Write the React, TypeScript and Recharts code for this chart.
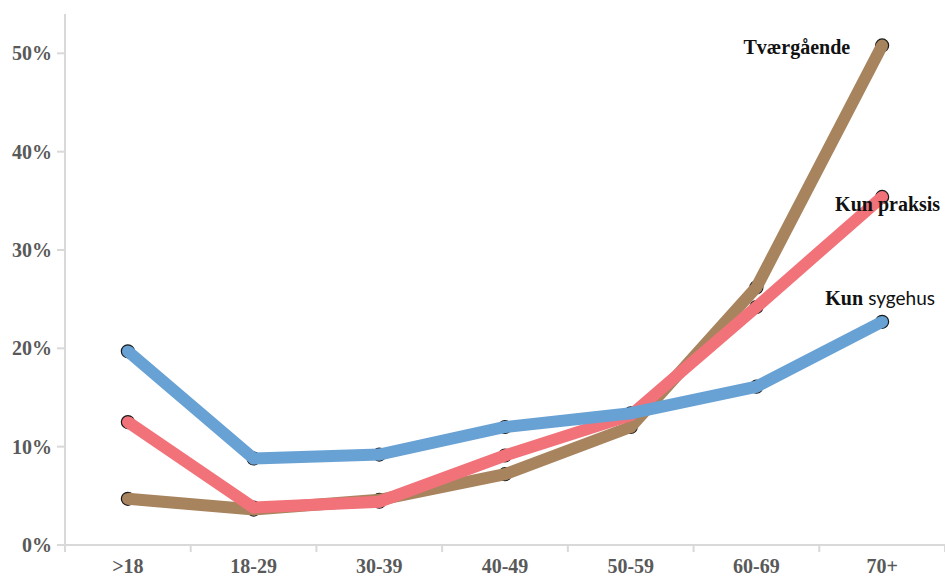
import { LineChart, Line, XAxis, YAxis } from "recharts";

// age groups on the x axis
const ageGroups = [">18", "18-29", "30-39", "40-49", "50-59", "60-69", "70+"];

// share of patients, percent
const tvaergaende = [4.7, 3.6, 4.6, 7.2, 12.0, 26.2, 50.8];
const kunPraksis = [12.5, 3.8, 4.4, 9.1, 13.2, 24.2, 35.4];
const kunSygehus = [19.7, 8.8, 9.2, 12.0, 13.4, 16.1, 22.7];

const yTicks = [0, 10, 20, 30, 40, 50];
const centerTicks = ageGroups.map((_, i) => i);
const edgeTicks = [...ageGroups.map((_, i) => i - 0.5), ageGroups.length - 0.5];

const data = ageGroups.map((group, i) => ({
  i,
  group,
  tv: tvaergaende[i],
  kp: kunPraksis[i],
  ks: kunSygehus[i],
}));

const BROWN = "#a8845e";
const RED = "#f2727a";
const BLUE = "#68a1d4";
const AXIS = "#d9d9d9";
const TICK_TEXT = "#595959";
const SERIF = "'Liberation Serif', 'Times New Roman', serif";

const W = 945;
const H = 577;
const MARGIN = { top: 14, right: 0, bottom: 0, left: 0 };
const X_DOMAIN: [number, number] = [-0.5, ageGroups.length - 0.5];
const Y_DOMAIN: [number, number] = [0, 54];

const tickStyle = {
  fill: TICK_TEXT,
  fontSize: 20,
  fontFamily: SERIF,
  fontWeight: 700,
};

const last = ageGroups.length - 1;

const tvLabel = (props: any) => {
  if (props.index !== last) return null;
  return (
    <text
      x={props.x - 32}
      y={props.y + 9}
      textAnchor="end"
      fontFamily={SERIF}
      fontSize={20}
      fontWeight={700}
      fill="#111"
    >
      Tværgående
    </text>
  );
};

const kpLabel = (props: any) => {
  if (props.index !== last) return null;
  return (
    <text
      x={props.x + 58}
      y={props.y + 14}
      textAnchor="end"
      fontFamily={SERIF}
      fontSize={20}
      fontWeight={700}
      fill="#111"
    >
      Kun praksis
    </text>
  );
};

const ksLabel = (props: any) => {
  if (props.index !== last) return null;
  return (
    <text x={props.x - 2} y={props.y - 17} textAnchor="middle" fill="#111">
      <tspan fontFamily={SERIF} fontSize={20} fontWeight={700}>
        Kun{" "}
      </tspan>
      <tspan fontFamily="Lato, 'Open Sans', sans-serif" fontSize={19}>
        sygehus
      </tspan>
    </text>
  );
};

const dotStyle = (color: string) => ({
  r: 6.5,
  fill: color,
  stroke: "#1a1a1a",
  strokeWidth: 1.2,
});

const layer = { position: "absolute" as const, left: 0, top: 0 };

export default function App() {
  return (
    <div style={{ position: "absolute", left: 0, top: 0, width: W, height: H, background: "#fff" }}>
      {/* bottom layer: axis frame with boundary ticks, plus the markers */}
      <div style={layer}>
        <LineChart width={W} height={H} data={data} margin={MARGIN}>
          <XAxis
            dataKey="i"
            type="number"
            domain={X_DOMAIN}
            ticks={edgeTicks}
            interval={0}
            height={32}
            axisLine={{ stroke: AXIS, strokeWidth: 2 }}
            tickLine={{ stroke: AXIS, strokeWidth: 2 }}
            tickSize={7}
            tickFormatter={() => ""}
          />
          <YAxis
            type="number"
            domain={Y_DOMAIN}
            ticks={yTicks}
            width={65}
            axisLine={{ stroke: AXIS, strokeWidth: 2 }}
            tickLine={{ stroke: AXIS, strokeWidth: 2 }}
            tickSize={8}
            tickMargin={5}
            tickFormatter={(v: number) => `${v}%`}
            tick={tickStyle}
          />
          <Line dataKey="tv" stroke="none" dot={dotStyle(BROWN)} activeDot={false} isAnimationActive={false} />
          <Line dataKey="kp" stroke="none" dot={dotStyle(RED)} activeDot={false} isAnimationActive={false} />
          <Line dataKey="ks" stroke="none" dot={dotStyle(BLUE)} activeDot={false} isAnimationActive={false} />
        </LineChart>
      </div>

      {/* top layer: category labels, thick lines and end labels */}
      <div style={layer}>
        <LineChart width={W} height={H} data={data} margin={MARGIN}>
          <XAxis
            dataKey="i"
            type="number"
            domain={X_DOMAIN}
            ticks={centerTicks}
            interval={0}
            height={32}
            axisLine={false}
            tickLine={false}
            tickSize={0}
            tickMargin={14}
            tickFormatter={(v: number) => ageGroups[v]}
            tick={tickStyle}
          />
          <YAxis
            type="number"
            domain={Y_DOMAIN}
            ticks={yTicks}
            width={65}
            axisLine={false}
            tickLine={false}
            tickFormatter={() => ""}
          />
          <Line
            dataKey="tv"
            type="linear"
            stroke={BROWN}
            strokeWidth={12}
            dot={false}
            activeDot={false}
            label={tvLabel}
            isAnimationActive={false}
          />
          <Line
            dataKey="kp"
            type="linear"
            stroke={RED}
            strokeWidth={12}
            dot={false}
            activeDot={false}
            label={kpLabel}
            isAnimationActive={false}
          />
          <Line
            dataKey="ks"
            type="linear"
            stroke={BLUE}
            strokeWidth={12}
            dot={false}
            activeDot={false}
            label={ksLabel}
            isAnimationActive={false}
          />
        </LineChart>
      </div>
    </div>
  );
}
